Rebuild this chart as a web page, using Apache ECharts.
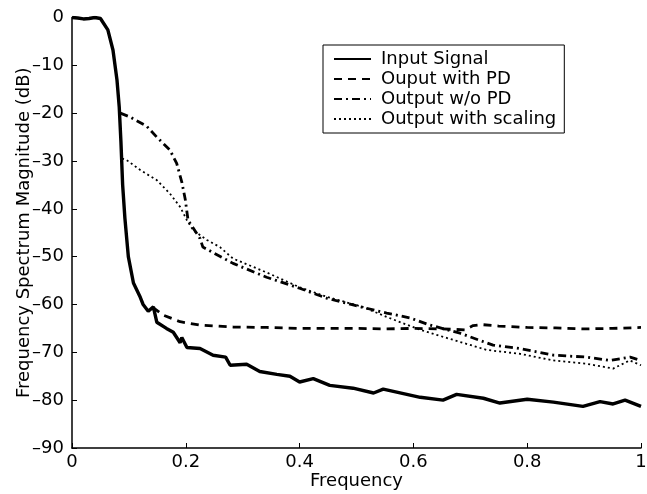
<!DOCTYPE html>
<html><head><meta charset="utf-8">
<script src="https://cdn.jsdelivr.net/npm/echarts@6/dist/echarts.min.js"></script>
<style>html,body{margin:0;padding:0;background:#fff}#c{width:647px;height:494px}</style>
</head><body><div id="c"></div>
<script>
// ---- data ----
const inputFreq = [0,0.01,0.02,0.03,0.04,0.05,0.053,0.063,0.072,0.079,0.083,0.086,0.089,0.093,0.096,0.099,0.108,0.12,0.125,0.134,0.143,0.149,0.166,0.178,0.19,0.193,0.202,0.225,0.248,0.27,0.278,0.307,0.33,0.36,0.383,0.4,0.424,0.453,0.494,0.53,0.547,0.612,0.652,0.676,0.723,0.752,0.8,0.846,0.898,0.928,0.951,0.972,1.0];
const inputDb   = [0,-0.1,-0.3,-0.2,0,-0.2,-0.5,-2.6,-6.8,-13,-18.7,-26,-35,-42,-46,-50,-55.5,-58.5,-60,-61.4,-60.5,-63.7,-65,-65.8,-68,-66.9,-69,-69.2,-70.6,-71,-72.7,-72.5,-74,-74.6,-75,-76.2,-75.5,-76.9,-77.5,-78.5,-77.7,-79.4,-80,-78.8,-79.6,-80.6,-79.8,-80.4,-81.3,-80.3,-80.8,-80,-81.3];

const pdFreq = [0.142,0.16,0.19,0.225,0.283,0.342,0.4,0.45,0.5,0.55,0.6,0.65,0.69,0.705,0.72,0.75,0.8,0.85,0.9,0.95,1.0];
const pdDb   = [-60.6,-62.2,-63.6,-64.3,-64.7,-64.8,-65,-65,-65,-65.1,-65,-65.1,-65.3,-64.4,-64.2,-64.5,-64.8,-64.9,-65.1,-65,-64.8];

const noPdFreq = [0.085,0.102,0.131,0.149,0.172,0.184,0.193,0.199,0.204,0.225,0.23,0.283,0.342,0.4,0.448,0.494,0.553,0.594,0.629,0.682,0.74,0.787,0.846,0.905,0.946,0.981,1.0];
const noPdDb   = [-20,-20.8,-22.7,-25,-27.7,-30.5,-34.4,-38,-42.4,-46.2,-48,-51.4,-54.3,-56.6,-58.7,-60.1,-61.8,-62.8,-64.3,-66,-68.5,-69.2,-70.6,-71,-71.7,-71,-71.7];

const scaleFreq = [0.088,0.096,0.12,0.149,0.172,0.19,0.202,0.213,0.237,0.26,0.283,0.342,0.4,0.448,0.511,0.553,0.612,0.67,0.729,0.787,0.846,0.905,0.951,0.98,1.0];
const scaleDb   = [-29.5,-29.8,-31.9,-34,-36.8,-39.6,-42.4,-44.5,-46.5,-48,-50.4,-53.3,-56.4,-58.4,-60.5,-62.6,-65.3,-67.4,-69.5,-70.3,-71.7,-72.4,-73.4,-71.7,-72.7];

const seriesNames = ['Input Signal','Ouput with PD','Output w/o PD','Output with scaling'];
const xTicks = {min:0, max:1, step:0.2};
const yTicks = {min:-90, max:0, step:10};

const pairs = (xs, ys) => xs.map((x, i) => [x, ys[i]]);
const font = '"DejaVu Sans", sans-serif';
const minusFmt = v => String(Math.round(v * 10) / 10).replace('-', '\u2013');

const chart = echarts.init(document.getElementById('c'), null, {renderer:'canvas'});
chart.setOption({
  animation:false,
  backgroundColor:'#fff',
  grid:{left:72, right:6, top:17.5, bottom:46, containLabel:false, outerBoundsMode:'none'},
  legend:{
    orient:'vertical', left:323, top:45,
    padding:[5,8,5,10], itemGap:2, itemWidth:37, itemHeight:14,
    borderColor:'#000', borderWidth:1, backgroundColor:'#fff', borderRadius:0,
    itemStyle:{opacity:0},
    textStyle:{fontFamily:font, fontSize:18, color:'#000', padding:[0,0,0,5]},
    data:seriesNames
  },
  xAxis:{
    type:'value', min:xTicks.min, max:xTicks.max, interval:xTicks.step,
    name:'Frequency', nameLocation:'middle', nameGap:24, nameMoveOverlap:false,
    nameTextStyle:{fontFamily:font, fontSize:18, color:'#000'},
    axisLine:{onZero:false, lineStyle:{color:'#000', width:1.5}},
    axisTick:{inside:true, length:5, lineStyle:{color:'#000'}},
    axisLabel:{fontFamily:font, fontSize:18, color:'#000', margin:5, formatter:minusFmt},
    splitLine:{show:false}
  },
  yAxis:{
    type:'value', min:yTicks.min, max:yTicks.max, interval:yTicks.step,
    name:'Frequency Spectrum Magnitude (dB)', nameLocation:'middle', nameGap:39, nameMoveOverlap:false,
    nameTextStyle:{fontFamily:font, fontSize:18, color:'#000'},
    axisLine:{onZero:false, lineStyle:{color:'#000', width:1.5}},
    axisTick:{inside:true, length:5, lineStyle:{color:'#000'}},
    axisLabel:{fontFamily:font, fontSize:18, color:'#000', margin:8, formatter:minusFmt},
    splitLine:{show:false}
  },
  series:[
    {name:seriesNames[0], type:'line', data:pairs(inputFreq,inputDb), showSymbol:false, symbol:'none', z:4,
     lineStyle:{color:'#000', width:3.4, type:'solid'}, itemStyle:{color:'#000'}},
    {name:seriesNames[1], type:'line', data:pairs(pdFreq,pdDb), showSymbol:false, symbol:'none', z:3,
     lineStyle:{color:'#000', width:2.8, type:[8,6]}, itemStyle:{color:'#000'}},
    {name:seriesNames[2], type:'line', data:pairs(noPdFreq,noPdDb), showSymbol:false, symbol:'none', z:3,
     lineStyle:{color:'#000', width:2.8, type:[8,4,2,4]}, itemStyle:{color:'#000'}},
    {name:seriesNames[3], type:'line', data:pairs(scaleFreq,scaleDb), showSymbol:false, symbol:'none', z:3,
     lineStyle:{color:'#000', width:1.8, type:[2,3]}, itemStyle:{color:'#000'}}
  ]
});
</script></body></html>
